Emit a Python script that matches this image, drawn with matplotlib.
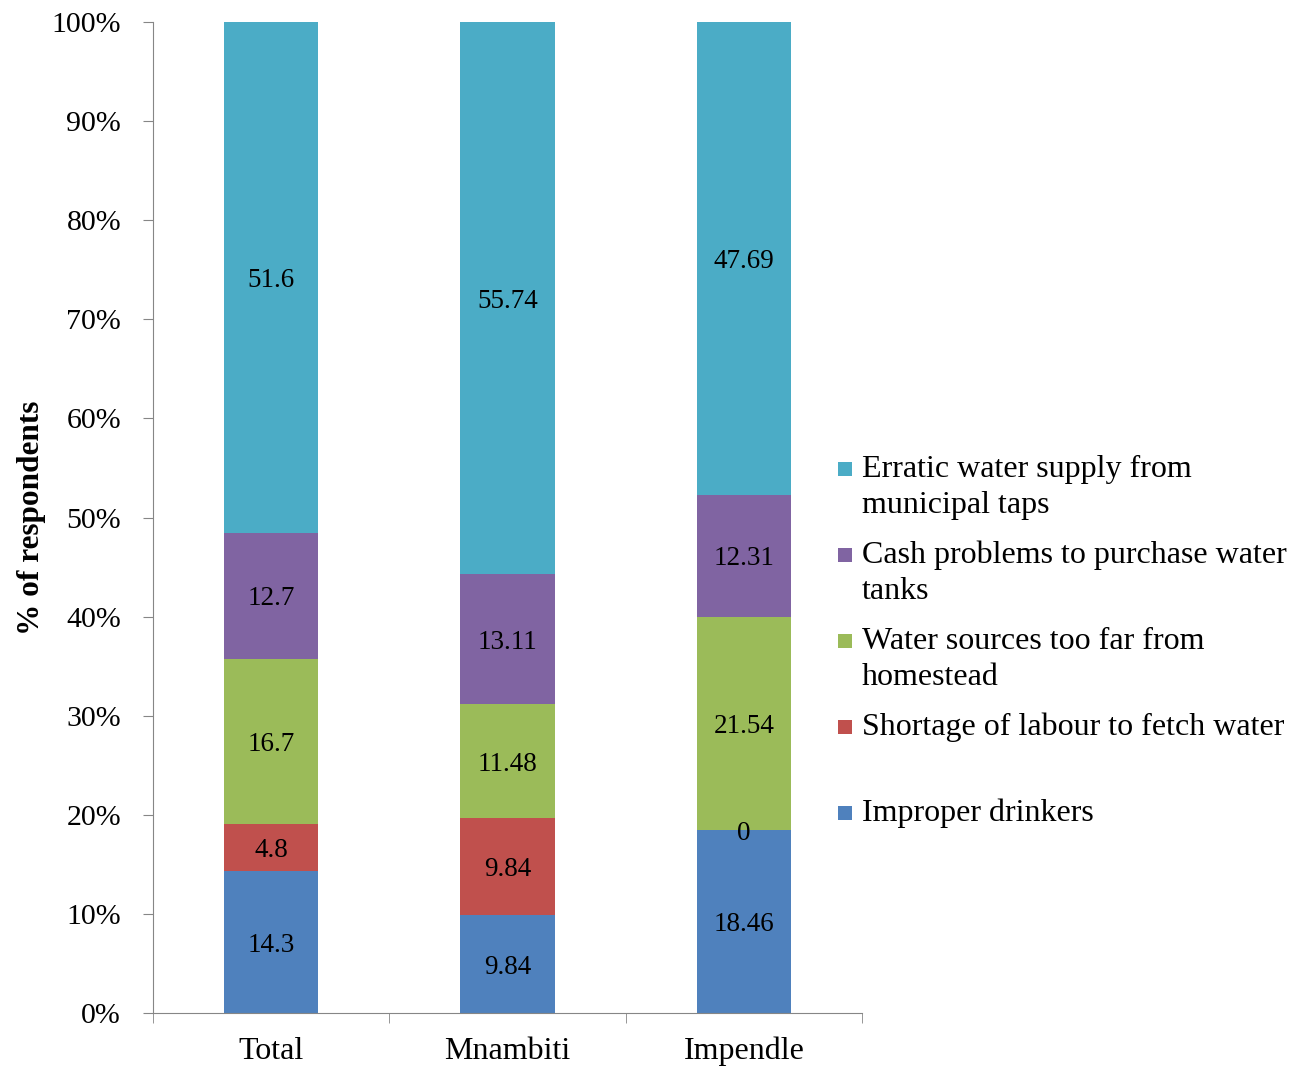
import matplotlib
import numpy as np

matplotlib.use("Agg")
import matplotlib.pyplot as plt
from matplotlib.patches import Rectangle

plt.rcParams["font.family"] = ["Liberation Serif", "DejaVu Serif"]

categories = ["Total", "Mnambiti", "Impendle"]
series_names = [
    "Improper drinkers",
    "Shortage of labour to fetch water",
    "Water sources too far from\nhomestead",
    "Cash problems to purchase water\ntanks",
    "Erratic water supply from\nmunicipal taps",
]
improper = [14.3, 9.84, 18.46]
labour = [4.8, 9.84, 0]
too_far = [16.7, 11.48, 21.54]
cash = [12.7, 13.11, 12.31]
erratic = [51.6, 55.74, 47.69]
colors = ["#4F81BD", "#C0504D", "#9BBB59", "#8064A2", "#4BACC6"]

values = np.array([improper, labour, too_far, cash, erratic], dtype=float)
shares = values / values.sum(axis=0) * 100.0

fig = plt.figure(figsize=(12.95, 10.69), dpi=100, facecolor="white")
ax = fig.add_axes([153 / 1295, 56 / 1069, 709 / 1295, 991 / 1069])

x = np.arange(len(categories))
bottom = np.zeros(len(categories))
for i_series, share in enumerate(shares):
    ax.bar(x, share, width=0.4, bottom=bottom, color=colors[i_series], linewidth=0)
    for i_cat in range(len(categories)):
        raw = values[i_series, i_cat]
        y_text = bottom[i_cat] + share[i_cat] / 2 - 0.3
        ax.text(x[i_cat], y_text, f"{raw:g}", ha="center", va="center", fontsize=19.5)
    bottom += share

ax.set_xlim(-0.5, 2.5)
ax.set_ylim(0, 100)
ax.set_yticks(np.arange(0, 101, 10))
ax.set_yticklabels([f"{v}%" for v in range(0, 101, 10)], fontsize=21.5)
ax.set_xticks(x)
ax.set_xticklabels(categories, fontsize=23)
ax.set_xticks([-0.5, 0.5, 1.5, 2.5], minor=True)
ax.tick_params(axis="x", which="major", length=0, pad=17)
ax.tick_params(axis="x", which="minor", length=7, color="#868686")
ax.tick_params(axis="y", length=7, pad=16, color="#868686")
for side in ["top", "right"]:
    ax.spines[side].set_visible(False)
for side in ["left", "bottom"]:
    ax.spines[side].set_color("#868686")
ax.set_ylabel("% of respondents", fontsize=22.5, fontweight="bold", labelpad=4)

# legend laid out like the spreadsheet original: equal slots, text top-aligned
slot_top = 469
slot_step = 86
for i_item, i_series in enumerate(range(len(series_names) - 1, -1, -1)):
    y_px = slot_top + i_item * slot_step
    y_fig = 1 - y_px / 1069
    fig.add_artist(Rectangle((838 / 1295, y_fig - 7 / 1069), 14 / 1295, 14 / 1069,
                             transform=fig.transFigure, color=colors[i_series], linewidth=0))
    fig.text(862 / 1295, y_fig + 14 / 1069, series_names[i_series], ha="left", va="top",
             fontsize=23, linespacing=1.3)

fig.savefig("out.png", dpi=100, facecolor="white")
